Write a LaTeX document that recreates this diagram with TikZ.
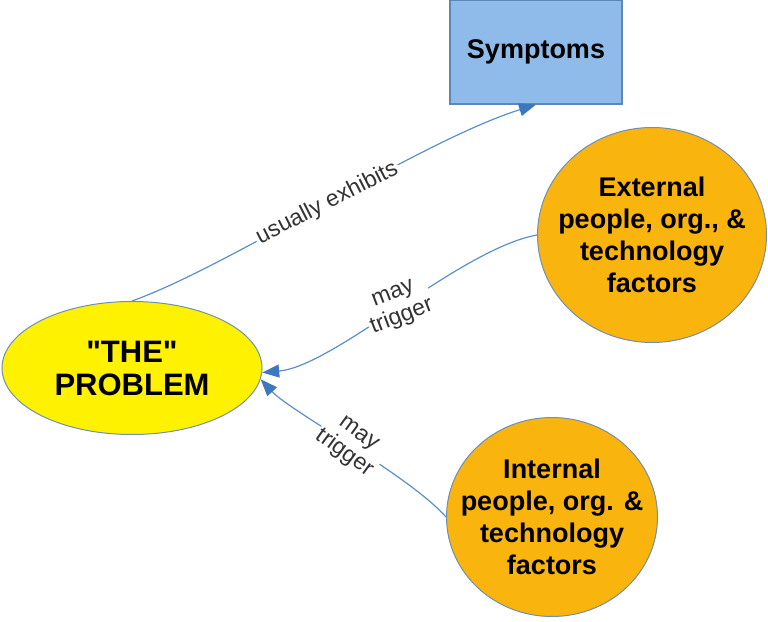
\documentclass[tikz,border=0pt]{standalone}
\usepackage{fontspec}
\setmainfont{Liberation Sans}[Ligatures=TeXOff]
\usetikzlibrary{arrows.meta,shapes.geometric}
\definecolor{symfill}{HTML}{8EBBEA}
\definecolor{symline}{HTML}{5D87B6}
\definecolor{orangefill}{HTML}{F9B40E}
\definecolor{nodeline}{HTML}{7090B0}
\definecolor{conncol}{HTML}{5B8FCB}
\definecolor{tipcol}{HTML}{3C78BE}
\definecolor{lblcol}{HTML}{333333}
\tikzset{
  nodetext/.style={font=\bfseries\fontsize{27}{32}\selectfont, align=center, text=black},
  factor/.style={ellipse, draw=nodeline, line width=1pt, fill=orangefill, inner sep=0pt},
  conn/.style={draw=conncol, line width=1.2pt, -{Triangle[length=17pt,width=13pt,fill=tipcol,color=tipcol]}},
  lbl/.style={font=\fontsize{23}{25}\selectfont, text=lblcol, fill=white, align=center, inner sep=2pt}
}
\begin{document}
\begin{tikzpicture}[x=1pt,y=1pt]
\useasboundingbox (0,0) rectangle (768,621);
\node[nodetext, rectangle, draw=symline, line width=1.2pt, fill=symfill,
      minimum width=172pt, minimum height=104pt, inner sep=0pt] (sym) at (536,569) {Symptoms};
\node[ellipse, draw=nodeline, line width=1pt, fill=yellow,
      minimum width=260pt, minimum height=133pt, inner sep=0pt] (prob) at (132,253) {};
\node[nodetext, font=\bfseries\fontsize{31}{33}\selectfont] (probtext) at (prob.center) {"THE"\\PROBLEM};
\node[factor, minimum width=229pt, minimum height=215pt] (ext) at (652,386) {};
\node[nodetext] (exttext) at (ext.center) {External\\people, org., \&\\technology\\factors};
\node[factor, minimum width=211pt, minimum height=199pt] (int) at (552,104) {};
\node[nodetext] (inttext) at (int.center) {Internal\\people, org. \&\\technology\\factors};
\draw[conn] (prob.north) .. controls (230,355) and (420,480) .. (sym.south)
      node[lbl, pos=0.5, rotate=27] (l1) {usually exhibits};
\draw[conn] (ext.west) .. controls (460,372) and (335,255) .. (prob.-2)
      node[lbl, pos=0.5, rotate=21] (l2) {may\\trigger};
\draw[conn] (int.west) .. controls (410,145) and (290,210) .. (prob.-5)
      node[lbl, pos=0.5, rotate=-36] (l3) {may\\trigger};
\end{tikzpicture}
\end{document}
